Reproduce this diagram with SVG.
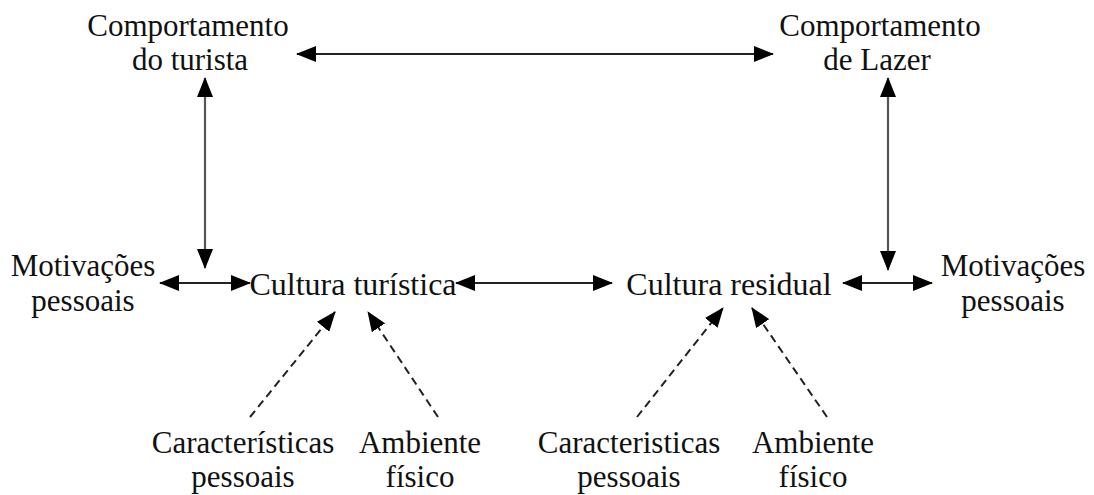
<svg xmlns="http://www.w3.org/2000/svg" width="1094" height="495" viewBox="0 0 1094 495">
  <style>
    text { font-family: "Liberation Serif", "Times New Roman", serif; font-size: 31px; fill: #111; text-anchor: middle; }
    .big { font-size: 32px; }
    .solid { stroke: #222; stroke-width: 2; fill: none; }
    .vert { stroke: #555; stroke-width: 2.2; fill: none; }
    .dash { stroke: #222; stroke-width: 2; fill: none; stroke-dasharray: 8 5; }
  </style>
  <defs>
    <marker id="head" markerUnits="userSpaceOnUse" viewBox="0 0 20 16" markerWidth="20" markerHeight="16" refX="19" refY="8" orient="auto-start-reverse">
      <path d="M0,0 L20,8 L0,16 z" fill="#000"/>
    </marker>
  </defs>
  <rect width="1094" height="495" fill="#fff"/>

  <g id="comportamento-turista">
    <text x="188" y="36">Comportamento</text>
    <text x="190" y="70">do turista</text>
  </g>
  <g id="comportamento-lazer">
    <text x="880" y="36">Comportamento</text>
    <text x="877" y="70">de Lazer</text>
  </g>
  <g id="motivacoes-esq">
    <text x="83" y="276">Motivações</text>
    <text x="83" y="311">pessoais</text>
  </g>
  <g id="cultura-turistica">
    <text class="big" x="353" y="295">Cultura turística</text>
  </g>
  <g id="cultura-residual">
    <text class="big" x="729" y="295">Cultura residual</text>
  </g>
  <g id="motivacoes-dir">
    <text x="1013" y="276">Motivações</text>
    <text x="1013" y="311">pessoais</text>
  </g>
  <g id="caracteristicas-esq">
    <text x="243" y="453">Características</text>
    <text x="243" y="487">pessoais</text>
  </g>
  <g id="ambiente-esq">
    <text x="420" y="453">Ambiente</text>
    <text x="420" y="487">físico</text>
  </g>
  <g id="caracteristicas-dir">
    <text x="629" y="453">Caracteristicas</text>
    <text x="629" y="487">pessoais</text>
  </g>
  <g id="ambiente-dir">
    <text x="813" y="453">Ambiente</text>
    <text x="813" y="487">físico</text>
  </g>

  <g id="connectors">
    <line class="solid" x1="297" y1="54" x2="773" y2="54" marker-start="url(#head)" marker-end="url(#head)"/>
    <line class="vert" x1="205" y1="78" x2="205" y2="268" marker-start="url(#head)" marker-end="url(#head)"/>
    <line class="vert" x1="888" y1="78" x2="888" y2="270" marker-start="url(#head)" marker-end="url(#head)"/>
    <line class="solid" x1="160" y1="283" x2="250" y2="283" marker-start="url(#head)" marker-end="url(#head)"/>
    <line class="solid" x1="456" y1="283" x2="612" y2="283" marker-start="url(#head)" marker-end="url(#head)"/>
    <line class="solid" x1="843" y1="283" x2="932" y2="283" marker-start="url(#head)" marker-end="url(#head)"/>
    <line class="dash" x1="250" y1="417" x2="335" y2="312" marker-end="url(#head)"/>
    <line class="dash" x1="438" y1="417" x2="368" y2="312" marker-end="url(#head)"/>
    <line class="dash" x1="637" y1="417" x2="723" y2="308" marker-end="url(#head)"/>
    <line class="dash" x1="827" y1="417" x2="752" y2="308" marker-end="url(#head)"/>
  </g>
</svg>
